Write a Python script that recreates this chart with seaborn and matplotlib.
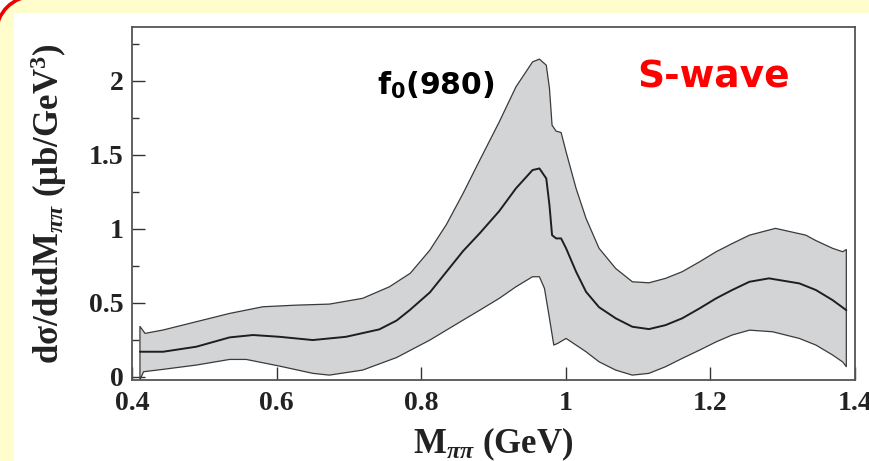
import numpy as np
import pandas as pd
import matplotlib
matplotlib.use("Agg")
import matplotlib.pyplot as plt
import seaborn as sns
from matplotlib.patches import Arc, Polygon, Rectangle
from matplotlib.ticker import MultipleLocator, FixedLocator

# ---- data ----
# central curve
central_m = [0.411, 0.443, 0.489, 0.535, 0.5675, 0.604, 0.65, 0.696, 0.742, 0.766, 0.784,
             0.812, 0.835, 0.858, 0.881, 0.908, 0.931, 0.954, 0.9635, 0.973, 0.9774,
             0.981, 0.9866, 0.9935, 1.0004, 1.0142, 1.028, 1.046, 1.069, 1.092, 1.115,
             1.138, 1.161, 1.185, 1.208, 1.23, 1.254, 1.281, 1.323, 1.346, 1.369, 1.388]
central = [0.169, 0.169, 0.203, 0.266, 0.282, 0.27, 0.248, 0.27, 0.32, 0.38, 0.45,
           0.57, 0.71, 0.85, 0.97, 1.12, 1.273, 1.397, 1.408, 1.34, 1.16,
           0.957, 0.935, 0.935, 0.868, 0.71, 0.574, 0.47, 0.395, 0.338, 0.322,
           0.349, 0.395, 0.462, 0.53, 0.586, 0.642, 0.665, 0.631, 0.586, 0.518, 0.45]
# upper edge of the error band
upper_m = [0.411, 0.418, 0.443, 0.489, 0.535, 0.581, 0.627, 0.673, 0.719, 0.756, 0.785,
           0.812, 0.835, 0.858, 0.881, 0.908, 0.931, 0.954, 0.9635, 0.973, 0.9774,
           0.981, 0.9866, 0.9935, 1.0004, 1.0142, 1.028, 1.046, 1.069, 1.092, 1.115,
           1.138, 1.161, 1.185, 1.208, 1.23, 1.254, 1.29, 1.332, 1.346, 1.369, 1.383, 1.388]
upper = [0.34, 0.293, 0.316, 0.372, 0.428, 0.473, 0.484, 0.491, 0.53, 0.608, 0.70,
         0.856, 1.03, 1.24, 1.464, 1.723, 1.959, 2.128, 2.147, 2.106, 1.949,
         1.70, 1.66, 1.651, 1.52, 1.273, 1.07, 0.868, 0.732, 0.642, 0.635,
         0.665, 0.71, 0.777, 0.845, 0.90, 0.957, 1.003, 0.957, 0.92, 0.868, 0.845, 0.86]
# lower edge of the error band
lower_m = [0.411, 0.416, 0.443, 0.489, 0.535, 0.558, 0.604, 0.65, 0.673, 0.719, 0.766,
           0.812, 0.858, 0.881, 0.908, 0.931, 0.954, 0.9635, 0.9705, 0.9774, 0.9834,
           0.989, 1.0004, 1.0142, 1.028, 1.046, 1.069, 1.092, 1.115, 1.138, 1.161,
           1.185, 1.208, 1.23, 1.254, 1.286, 1.323, 1.346, 1.369, 1.383, 1.388]
lower = [-0.02, 0.034, 0.05, 0.079, 0.117, 0.117, 0.072, 0.023, 0.011, 0.045, 0.13,
         0.248, 0.383, 0.45, 0.53, 0.608, 0.676, 0.676, 0.597, 0.395, 0.214,
         0.226, 0.259, 0.214, 0.169, 0.101, 0.045, 0.011, 0.023, 0.068, 0.124,
         0.18, 0.236, 0.282, 0.315, 0.304, 0.259, 0.214, 0.147, 0.10, 0.068]

x_ticks = [0.4, 0.6, 0.8, 1.0, 1.2, 1.4]
x_tick_labels = ["0.4", "0.6", "0.8", "1", "1.2", "1.4"]
y_ticks = [0, 0.5, 1, 1.5, 2]
y_tick_labels = ["0", "0.5", "1", "1.5", "2"]

df_c = pd.DataFrame({"m": central_m, "value": central})

sns.set_style("ticks")
plt.rcParams['font.family'] = ['Liberation Serif', 'DejaVu Sans']
plt.rcParams['mathtext.fontset'] = 'custom'
plt.rcParams['mathtext.rm'] = 'Liberation Serif:bold'
plt.rcParams['mathtext.it'] = 'Liberation Serif:italic:bold'
plt.rcParams['mathtext.bf'] = 'Liberation Serif:bold'
plt.rcParams['mathtext.sf'] = 'DejaVu Sans:bold'

W, H = 869, 461
fig = plt.figure(figsize=(W / 100, H / 100), dpi=100, facecolor='#fffdcc')

def fxy(px, py):
    return (px / W, 1 - py / H)

# white inner slide area
fig.add_artist(Rectangle(fxy(14, H + 20), 1.2, (H + 20 - 13) / H, transform=fig.transFigure,
                         facecolor='white', edgecolor='none', zorder=-19))
# rounded red corner of the slide frame (top-left)
R, cx, cy = 38, 34, 34
theta = np.linspace(np.pi / 2, np.pi, 40)
corner_pts = [fxy(-6, -6)] + [fxy(cx + R * np.cos(t), cy - R * np.sin(t)) for t in theta]
fig.add_artist(Polygon(corner_pts, closed=True, transform=fig.transFigure,
                       facecolor='white', edgecolor='none', zorder=-18))
fig.add_artist(Arc(fxy(cx, cy), 2 * R / W, 2 * R / H, theta1=90, theta2=180,
                   transform=fig.transFigure, color='#ee0000', linewidth=2.6, zorder=-17))

ax = fig.add_axes([132 / W, 1 - 380 / H, (855 - 132) / W, (380 - 27) / H])
ax.set_facecolor('white')

band_x = list(upper_m) + list(lower_m[::-1])
band_y = list(upper) + list(lower[::-1])
ax.fill(band_x, band_y, facecolor='#d3d4d6', edgecolor='#3a3a3a', linewidth=0.9,
        joinstyle='round', zorder=2)
sns.lineplot(data=df_c, x="m", y="value", ax=ax, color='#1e1e1e', linewidth=1.4,
             zorder=3, sort=False)

ax.set_xlim(0.4, 1.4)
ax.set_ylim(-0.022, 2.364)

ax.xaxis.set_major_locator(FixedLocator(x_ticks))
ax.set_xticklabels(x_tick_labels)
ax.yaxis.set_major_locator(FixedLocator(y_ticks))
ax.set_yticklabels(y_tick_labels)
ax.yaxis.set_minor_locator(MultipleLocator(0.25))

ax.tick_params(axis='both', which='major', direction='in', length=9.4, width=1.0,
               color='#333333', labelsize=20, pad=6)
ax.tick_params(axis='x', which='major', pad=8)
ax.tick_params(axis='y', which='minor', direction='in', length=5, width=1.0, color='#333333')
ax.tick_params(top=False, right=False)
for lab in ax.get_xticklabels() + ax.get_yticklabels():
    lab.set_fontweight('bold')
    lab.set_color('#222222')

for sp in ax.spines.values():
    sp.set_visible(True)
    sp.set_color('#555555')
    sp.set_linewidth(1.3)

ax.set_xlabel(r"M$_{\pi\pi}$ (GeV)", fontsize=25, fontweight='bold', color='#222222',
              labelpad=7)
ax.set_ylabel(r"dσ/dtdM$_{\pi\pi}$ (μb/GeV$^{3}$)", fontsize=25, fontweight='bold',
              color='#222222', labelpad=14)

ax.text(0.82, 1.97, r"f$_{\mathsf{0}}$(980)", fontsize=21.5, fontweight='bold',
        family=['DejaVu Sans'], color='black', ha='center', va='center', zorder=5)
ax.text(1.205, 2.02, "S-wave", fontsize=27, fontweight='bold', family=['DejaVu Sans'],
        color='#ff0000', ha='center', va='center', zorder=5)

fig.savefig("out.png", dpi=100)
